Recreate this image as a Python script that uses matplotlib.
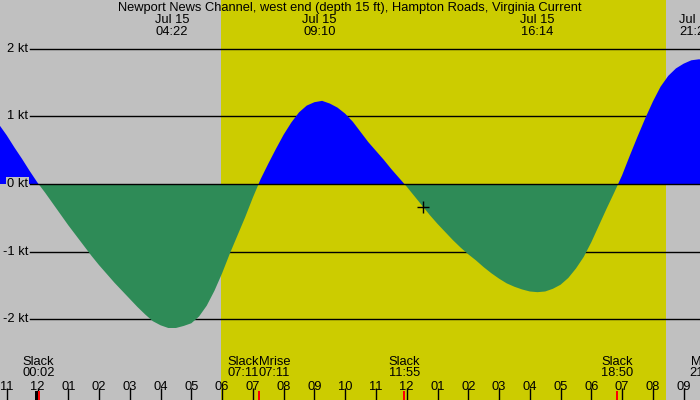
import numpy as np
import matplotlib
matplotlib.use("Agg")
import matplotlib.pyplot as plt
import matplotlib.transforms as mtransforms

plt.rcParams['font.family'] = ['Liberation Sans', 'DejaVu Sans']

title = "Newport News Channel, west end (depth 15 ft), Hampton Roads, Virginia Current"

# current speed (kt) every 15 min, hours from midnight Jul 15
hours = np.arange(-1.25, 22.01, 0.25)
speed = [0.88, 0.72, 0.54, 0.37, 0.19, 0.02, -0.13, -0.29,
         -0.45, -0.61, -0.76, -0.91, -1.06, -1.20, -1.33, -1.46,
         -1.58, -1.70, -1.82, -1.93, -2.03, -2.09, -2.13, -2.13,
         -2.10, -2.06, -1.96, -1.80, -1.58, -1.32, -1.03, -0.76,
         -0.49, -0.20, 0.07, 0.30, 0.52, 0.73, 0.91, 1.06,
         1.16, 1.21, 1.23, 1.19, 1.13, 1.04, 0.92, 0.77,
         0.62, 0.49, 0.36, 0.22, 0.09, -0.04, -0.18, -0.32,
         -0.46, -0.59, -0.71, -0.83, -0.94, -1.04, -1.13, -1.23,
         -1.32, -1.40, -1.47, -1.52, -1.56, -1.59, -1.60, -1.59,
         -1.55, -1.49, -1.39, -1.25, -1.08, -0.86, -0.61, -0.36,
         -0.12, 0.13, 0.42, 0.70, 0.97, 1.22, 1.44, 1.60,
         1.71, 1.78, 1.83, 1.845, 1.83, 1.79]

# max flood / ebb labels at top
peak_times = [4.367, 9.167, 16.233, 21.40]
peak_labels = ["04:22", "09:10", "16:14", "21:24"]

# events at bottom
slack_times = [0.033, 7.183, 11.917, 18.833]
slack_labels = ["00:02", "07:11", "11:55", "18:50"]
moon_events = [("Mrise", 7.183, "07:11"), ("Mset", 21.70, "21:42")]

sunrise, sunset = 5.97, 20.41
now_time, now_speed = 12.52, -0.345

tick_hours = list(range(-1, 22))
tick_labels = ["%02d" % ((h % 12) or 12) for h in tick_hours]
kt_levels = [2, 1, 0, -1, -2]

px_per_hr = 30.77
x0 = -37.5 / px_per_hr
px_per_kt = 67.6
fs = 9.3

fig = plt.figure(figsize=(7, 4), dpi=100)
ax = fig.add_axes([0, 0, 1, 1])
ax.set_facecolor('#c0c0c0')
ax.set_xlim(x0, x0 + 700 / px_per_hr)
ax.set_ylim(-216 / px_per_kt, 184 / px_per_kt)
for s in ax.spines.values():
    s.set_visible(False)
ax.set_yticks([])

ax.axvspan(sunrise, sunset, color='#cccc00', lw=0, zorder=0)

blend = mtransforms.blended_transform_factory(ax.transAxes, ax.transData)
for k in kt_levels:
    ax.plot([30 / 700, 1], [k, k], color='black', lw=1, transform=blend,
            zorder=4 if k == 0 else 1)
    ax.text(28 / 700, k, "%d kt" % k, transform=blend, ha='right', va='center',
            fontsize=fs, zorder=5,
            bbox=dict(fc='#c0c0c0', ec='none', pad=0.5))

sp = np.array(speed)
ax.fill_between(hours, sp, 0, where=sp >= 0, color='blue', lw=0,
                interpolate=True, zorder=2)
ax.fill_between(hours, sp, 0, where=sp <= 0, color='#2e8b57', lw=0,
                interpolate=True, zorder=2)
ax.plot([now_time], [now_speed], marker='+', color='black', ms=8, mew=1,
        zorder=5)

# x ticks inside the plot
ax.set_xticks(tick_hours)
ax.set_xticklabels(tick_labels)
ax.tick_params(axis='x', direction='in', length=9, width=1, pad=-13.5,
               labelsize=fs)
for lab in ax.get_xticklabels():
    lab.set_verticalalignment('top')

xblend = ax.get_xaxis_transform()
ax.vlines([-0.03], 0, 9 / 400, color='black', lw=2.4, transform=xblend,
          zorder=6, antialiased=False)
ax.vlines(slack_times, 0, 9 / 400, color='red', lw=1.2, transform=xblend,
          zorder=7, antialiased=False)

ax.text(0.5, 1 - 8 / 400, title, transform=ax.transAxes, ha='center',
        va='center', fontsize=fs)
for t, lab in zip(peak_times, peak_labels):
    ax.text(t, 1 - 20 / 400, "Jul 15", transform=xblend, ha='center',
            va='center', fontsize=fs)
    ax.text(t, 1 - 32 / 400, lab, transform=xblend, ha='center',
            va='center', fontsize=fs)

for t, lab in zip(slack_times, slack_labels):
    ha = 'right' if t == moon_events[0][1] else 'center'
    dx = 0.3 / px_per_hr if ha == 'right' else 0
    ax.text(t + dx, 38 / 400, "Slack", transform=xblend, ha=ha, va='center',
            fontsize=fs)
    ax.text(t + dx, 27 / 400, lab, transform=xblend, ha=ha, va='center',
            fontsize=fs)
for name, t, lab in moon_events:
    ha = 'left' if t in slack_times else 'center'
    ax.text(t, 38 / 400, name, transform=xblend, ha=ha, va='center',
            fontsize=fs)
    ax.text(t, 27 / 400, lab, transform=xblend, ha=ha, va='center',
            fontsize=fs)

fig.savefig("out.png", dpi=100)
